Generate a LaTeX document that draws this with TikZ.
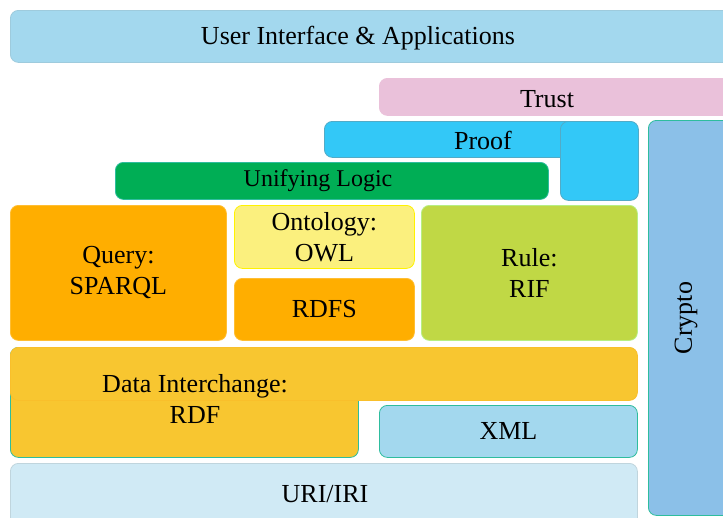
\documentclass[tikz,border=0pt]{standalone}
\usepackage{fontspec}
\setmainfont{Liberation Serif}
\usetikzlibrary{positioning}

\definecolor{uiblue}{HTML}{A3D8EE}
\definecolor{trustpink}{HTML}{EAC1DA}
\definecolor{proofblue}{HTML}{33C8F7}
\definecolor{cryptoblue}{HTML}{8BC0E8}
\definecolor{logicgreen}{HTML}{00AE55}
\definecolor{queryorange}{HTML}{FFAE00}
\definecolor{owlyellow}{HTML}{FBF07E}
\definecolor{rulegreen}{HTML}{C0D845}
\definecolor{rdfyellow}{HTML}{F8C630}
\definecolor{uriblue}{HTML}{D0EAF5}
\definecolor{tealline}{HTML}{2EBD9E}

\begin{document}
\begin{tikzpicture}[x=1pt, y=-1pt, font=\fontsize{26}{31}\selectfont]
  \tikzset{
    layer/.style={
      rounded corners=8pt,
      draw,
      line width=0.8pt,
      anchor=north west,
      inner sep=0pt,
      align=center,
      text centered},
    lbl/.style={
      inner sep=0pt,
      align=center}}

  \useasboundingbox (0,0) rectangle (723,517);

  % top layers
  \node[layer, fill=uiblue, draw=uiblue!85!gray, minimum width=740, minimum height=52] (ui) at (10,10) {};
  \node[lbl] (uitext) at (358,38) {User Interface \& Applications};

  \node[layer, fill=trustpink, draw=trustpink, minimum width=360, minimum height=37] (trust) at (379,78) {};
  \node[lbl] (trusttext) at (547,99) {Trust};

  \node[layer, fill=proofblue, draw=proofblue!60!gray, minimum width=250, minimum height=36] (proof) at (324,121) {};
  \node[layer, fill=proofblue, draw=proofblue!60!gray, minimum width=78, minimum height=79] (proofsq) at (560,121) {};
  \node[lbl] (prooftext) at (483,140) {Proof};

  \node[layer, fill=cryptoblue, draw=tealline, minimum width=90, minimum height=395] (crypto) at (648,120) {};
  \node[lbl, rotate=90] (cryptotext) at (686,318) {Crypto};

  \node[layer, fill=logicgreen, draw=tealline, minimum width=433, minimum height=37] (logic) at (115,162) {};
  \node[lbl, font=\fontsize{24}{28}\selectfont] (logictext) at (318,181) {Unifying Logic};

  % middle layers
  \node[layer, fill=queryorange, draw=queryorange!80!white, minimum width=216, minimum height=135] (query) at (10,205) {Query:\\SPARQL};
  \node[layer, fill=owlyellow, draw=yellow, minimum width=180, minimum height=63] (owl) at (234,205) {Ontology:\\OWL};
  \node[layer, fill=queryorange, draw=queryorange!80!white, minimum width=180, minimum height=62] (rdfs) at (234,278) {RDFS};
  \node[layer, fill=rulegreen, draw=rulegreen!70!green!60!white, minimum width=216, minimum height=135] (rule) at (421,205) {Rule:\\RIF};

  % bottom layers
  \node[layer, fill=rdfyellow, draw=tealline, minimum width=348, minimum height=110] (rdflow) at (10,347) {};
  \node[layer, fill=rdfyellow, draw=rdfyellow!90!orange, minimum width=627, minimum height=53] (rdftop) at (10,347) {};
  \node[lbl] (rdftext) at (195,399) {Data Interchange:\\RDF};

  \node[layer, fill=uiblue, draw=tealline, minimum width=258, minimum height=52] (xml) at (379,405) {XML};

  \node[layer, fill=uriblue, draw=uriblue!80!gray, minimum width=627, minimum height=70] (uri) at (10,463) {};
  \node[lbl] (uritext) at (325,494) {URI/IRI};
\end{tikzpicture}
\end{document}
